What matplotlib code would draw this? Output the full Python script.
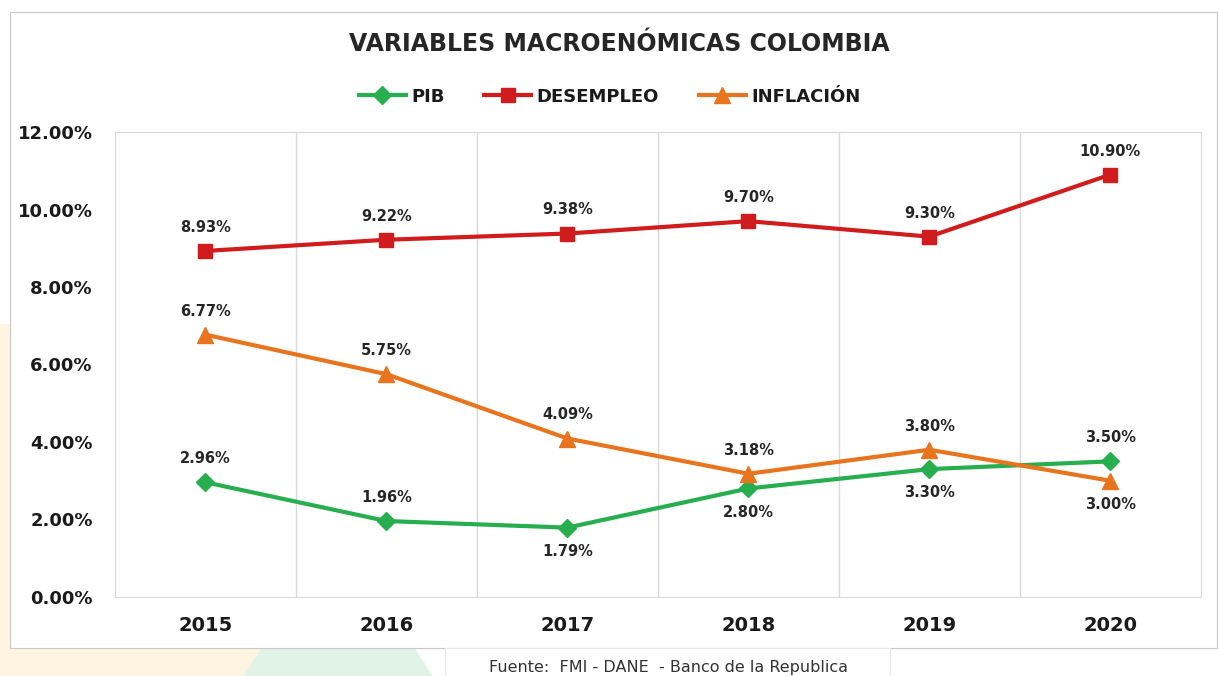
import matplotlib
matplotlib.use("Agg")
from matplotlib import pyplot as plt
from matplotlib.patches import Rectangle, Polygon
from matplotlib.ticker import FuncFormatter

years = ["2015", "2016", "2017", "2018", "2019", "2020"]
pib = [2.96, 1.96, 1.79, 2.80, 3.30, 3.50]
desempleo = [8.93, 9.22, 9.38, 9.70, 9.30, 10.90]
inflacion = [6.77, 5.75, 4.09, 3.18, 3.80, 3.00]

# posición de etiquetas: 1 arriba, -1 abajo
pib_pos = [1, 1, -1, -1, -1, 1]
desempleo_pos = [1, 1, 1, 1, 1, 1]
inflacion_pos = [1, 1, 1, 1, 1, -1]

c_pib = "#27ae4f"
c_des = "#d01c1c"
c_inf = "#e8741e"

fig = plt.figure(figsize=(12.19, 6.76), dpi=100)
fig.patch.set_facecolor("white")

""" fondo decorativo de la diapositiva """
fig.patches.append(Rectangle((0, 0), 0.012, 0.52, transform=fig.transFigure,
                             facecolor="#fdf5e2", edgecolor="none", zorder=0))
fig.patches.append(Rectangle((0, 0), 0.22, 0.045, transform=fig.transFigure,
                             facecolor="#fdf5e2", edgecolor="none", zorder=0))
fig.patches.append(Polygon([(0.20, 0.0), (0.355, 0.0), (0.34, 0.042), (0.215, 0.042)],
                           closed=True, transform=fig.transFigure,
                           facecolor="#e1f2e6", edgecolor="none", zorder=0))
fig.patches.append(Rectangle((0.008, 0.042), 0.99, 0.94, transform=fig.transFigure,
                             facecolor="white", edgecolor="#c8c8c8", linewidth=0.8, zorder=0))
fig.patches.append(Rectangle((0.365, -0.01), 0.365, 0.052, transform=fig.transFigure,
                             facecolor="white", edgecolor="#e6e6e6", linewidth=0.8, zorder=0))

ax = fig.add_axes([0.0943, 0.1169, 0.8907, 0.6878])
ax.set_zorder(2)
ax.set_facecolor("none")
x = list(range(len(years)))

ax.plot(x, pib, color=c_pib, lw=3, marker="D", ms=9, label="PIB", zorder=3)
ax.plot(x, desempleo, color=c_des, lw=3, marker="s", ms=10, label="DESEMPLEO", zorder=3)
ax.plot(x, inflacion, color=c_inf, lw=3, marker="^", ms=11, label="INFLACIÓN", zorder=3)

for vals, pos in [(pib, pib_pos), (desempleo, desempleo_pos), (inflacion, inflacion_pos)]:
    for i, (v, p) in enumerate(zip(vals, pos)):
        ax.annotate("%.2f%%" % v, (i, v), xytext=(0, 17 * p), textcoords="offset points",
                    ha="center", va="center", fontsize=10.5, fontweight="bold",
                    color="#262626", zorder=4)

ax.set_xlim(-0.5, 5.5)
ax.set_ylim(0, 12)
ax.set_yticks([0, 2, 4, 6, 8, 10, 12])
ax.yaxis.set_major_formatter(FuncFormatter(lambda v, p: "%.2f%%" % v))
ax.set_xticks(x)
ax.set_xticklabels(years)
ax.set_xticks([i + 0.5 for i in x[:-1]], minor=True)
ax.grid(axis="x", which="minor", color="#d9d9d9", lw=1)
ax.tick_params(axis="both", which="both", length=0)
ax.tick_params(axis="y", labelsize=13, pad=16)
ax.tick_params(axis="x", labelsize=14, pad=14)
for lab in ax.get_xticklabels() + ax.get_yticklabels():
    lab.set_fontweight("bold")
    lab.set_color("#1a1a1a")
for s in ax.spines.values():
    s.set_color("#d9d9d9")

fig.text(0.508, 0.935, "VARIABLES MACROENÓMICAS COLOMBIA", ha="center", va="center",
         fontsize=17, fontweight="bold", color="#262626")
fig.legend(loc="center", bbox_to_anchor=(0.50, 0.857), ncol=3, frameon=False,
           prop={"weight": "bold", "size": 13}, handlelength=2.6, columnspacing=2.2,
           handletextpad=0.3, labelcolor="#1a1a1a")

fig.text(0.548, 0.012, "Fuente:  FMI - DANE  - Banco de la Republica", ha="center",
         va="center", fontsize=11.5, color="#333333")

fig.savefig("out.png", dpi=100)
